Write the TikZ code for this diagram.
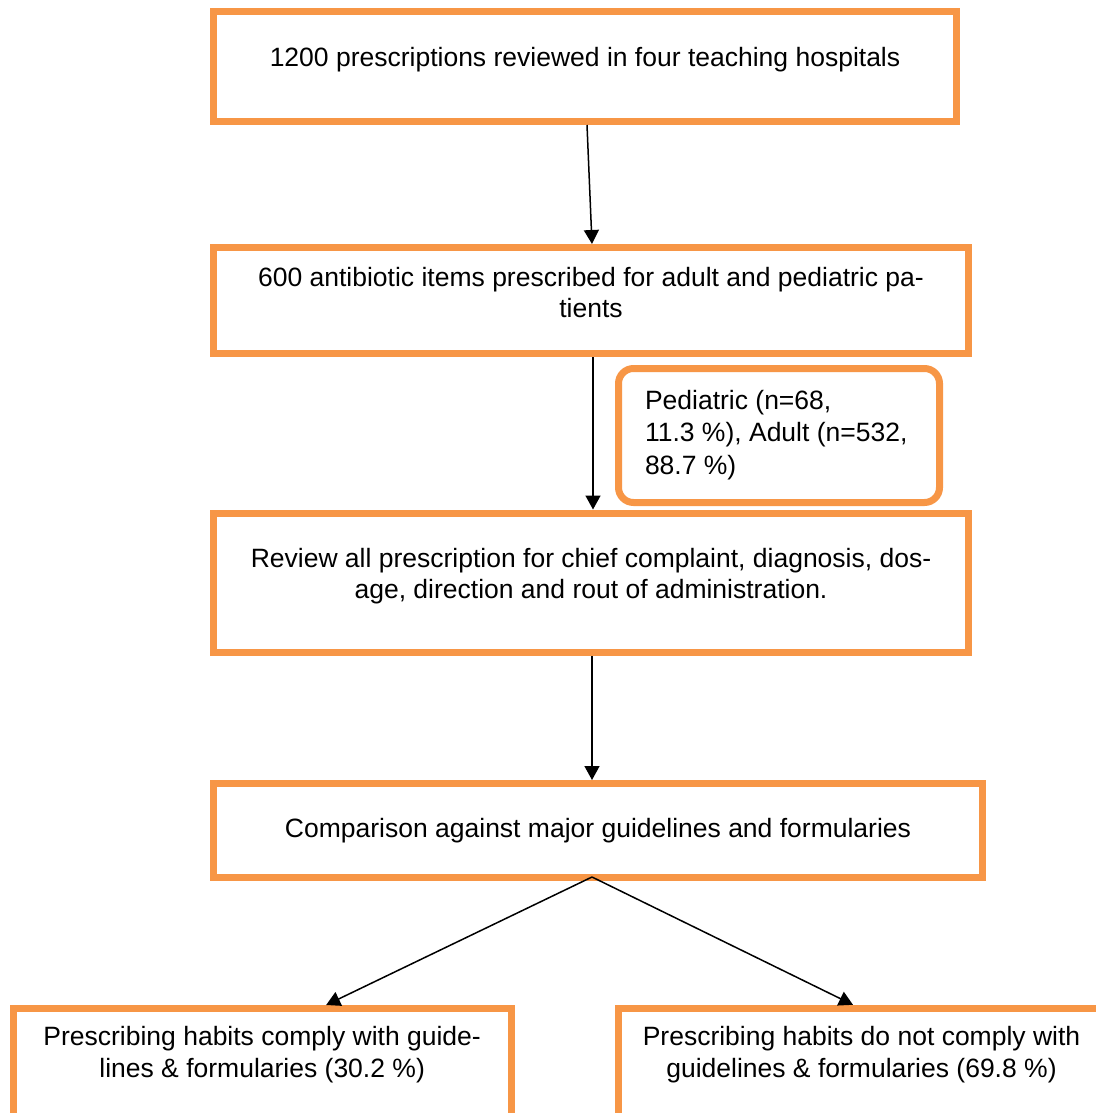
\documentclass[tikz,border=0pt]{standalone}
\usepackage{fontspec}
\setmainfont{Liberation Sans}
\usetikzlibrary{arrows.meta}
\definecolor{boxorange}{HTML}{F79646}
% #1 width, #2 height, #3 space above first line, #4 text
\newcommand{\bxtext}[4]{\parbox[c][#2][t]{#1}{\vspace*{#3}\centering\strut #4}}
\newcommand{\bxleft}[5]{\parbox[c][#2][t]{#1}{\vspace*{#3}\raggedright\leftskip=#4\strut #5}}
\begin{document}
\begin{tikzpicture}[x=1pt,y=-1pt,
  flowbox/.style={draw=boxorange, line width=7pt, inner sep=0pt, fill=white,
    font=\fontsize{26.5}{31.5}\selectfont},
  roundbox/.style={flowbox, rounded corners=15pt, font=\fontsize{26.5}{32.5}\selectfont},
  arr/.style={black, line width=1.5pt, -{Triangle[length=14pt,width=15pt]}}]
\useasboundingbox (0,0) rectangle (1095,1113);

\node[flowbox] (b1) at (585,66.5)
  {\bxtext{743pt}{110pt}{32.5pt}{1200 prescriptions reviewed in four teaching hospitals}};
\node[flowbox] (b2) at (591,300.5)
  {\bxtext{755pt}{106pt}{16.8pt}{600 antibiotic items prescribed for adult and pediatric pa-\\tients}};
\node[roundbox] (ped) at (779,435.5)
  {\bxleft{321pt}{134pt}{17.8pt}{26.5pt}{Pediatric (n=68,\\11.3 \%), Adult (n=532,\\88.7 \%)}};
\node[flowbox] (b3) at (591,582.75)
  {\bxtext{755pt}{139.5pt}{32pt}{Review all prescription for chief complaint, diagnosis, dos-\\age, direction and rout of administration.}};
\node[flowbox] (b4) at (598,830.5)
  {\bxtext{769pt}{94pt}{31.5pt}{Comparison against major guidelines and formularies}};
\node[flowbox] (b5) at (262.15,1066)
  {\bxtext{497.7pt}{115pt}{15.2pt}{Prescribing habits comply with guide-\\lines \& formularies (30.2 \%)}};
\node[flowbox] (b6) at (861.5,1065.8)
  {\bxtext{486.4pt}{115pt}{15.4pt}{Prescribing habits do not comply with\\guidelines \& formularies (69.8 \%)}};

\draw[arr] ([xshift=2pt]b1.south) -- ([xshift=1pt]b2.north);
\draw[arr] ([xshift=2pt]b2.south) -- ([xshift=2pt]b3.north);
\draw[arr] ([xshift=1pt]b3.south) -- ([xshift=-6pt]b4.north);
\coordinate (apex) at ([xshift=-6pt,yshift=4pt]b4.south);
\draw[arr] (apex) -- ([xshift=64pt]b5.north);
\draw[arr] (apex) -- ([xshift=-8.5pt]b6.north);
\end{tikzpicture}
\end{document}
